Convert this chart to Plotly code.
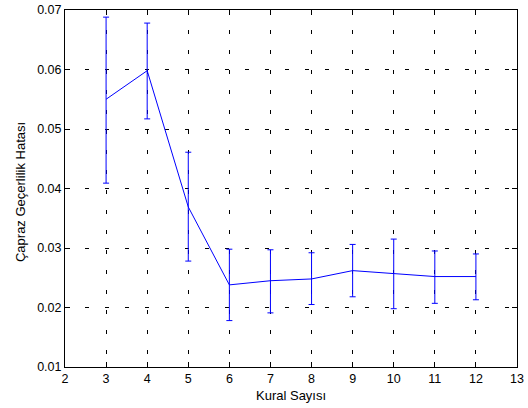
import plotly.graph_objects as go

kural = [3, 4, 5, 6, 7, 8, 9, 10, 11, 12]
hata = [0.0550, 0.0598, 0.0369, 0.0238, 0.0245, 0.0248, 0.0262, 0.0257, 0.0252, 0.0252]
upper = [0.0688, 0.0678, 0.0461, 0.0298, 0.0297, 0.0292, 0.0306, 0.0315, 0.0295, 0.0290]
lower = [0.0409, 0.0517, 0.0278, 0.0178, 0.0191, 0.0205, 0.0218, 0.0198, 0.0207, 0.0213]

x_ticks = list(range(2, 14))
y_ticks = [0.01, 0.02, 0.03, 0.04, 0.05, 0.06, 0.07]

err_plus = [u - m for u, m in zip(upper, hata)]
err_minus = [m - l for m, l in zip(hata, lower)]

fig = go.Figure()
fig.add_trace(go.Scatter(
    x=kural, y=hata, mode="lines",
    line=dict(color="#0000ff", width=1),
    error_y=dict(type="data", symmetric=False, array=err_plus, arrayminus=err_minus,
                 color="#0000ff", thickness=1, width=3),
    showlegend=False, hoverinfo="skip",
))

tick_font = dict(family="Liberation Sans, Arial, sans-serif", size=12.5, color="#000000")
label_font = dict(family="Liberation Sans, Arial, sans-serif", size=13, color="#000000")
axis_common = dict(
    showline=True, linecolor="#000000", linewidth=1, mirror="allticks",
    ticks="inside", ticklen=5, tickcolor="#000000", tickwidth=1,
    showgrid=True, gridcolor="#000000", gridwidth=1, griddash="4px,16px",
    zeroline=False, tickfont=tick_font, automargin=False,
)
fig.update_xaxes(range=[2, 13], tickvals=x_ticks, ticktext=[str(v) for v in x_ticks], **axis_common)
fig.update_yaxes(range=[0.01, 0.07], tickvals=y_ticks, ticktext=[f"{v:.2f}" for v in y_ticks], **axis_common)

fig.update_layout(
    width=528, height=408,
    margin=dict(l=65, r=11, t=10, b=41),
    paper_bgcolor="#ffffff", plot_bgcolor="#ffffff",
    font=tick_font,
    annotations=[
        dict(text="Kural Sayısı", xref="paper", yref="paper", x=0.5, y=-0.081,
             xanchor="center", yanchor="middle", showarrow=False, font=label_font),
        dict(text="Çapraz Geçerlilik Hatası", xref="paper", yref="paper", x=-0.0996, y=0.49,
             xanchor="center", yanchor="middle", textangle=-90, showarrow=False, font=label_font),
    ],
)

fig.write_html("out.html", config={"displayModeBar": False},
               post_script="document.body.style.margin='0';document.body.style.overflow='hidden';")
